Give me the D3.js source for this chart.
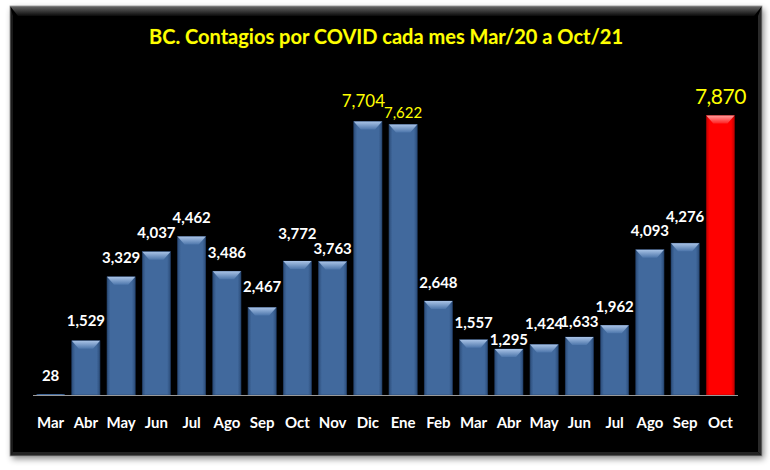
<!DOCTYPE html>
<html><head><meta charset="utf-8">
<script src="https://cdn.jsdelivr.net/npm/d3@7"></script>
<style>html,body{margin:0;padding:0;background:#fff;}svg{display:block;}</style>
</head><body>
<svg id="chart" width="770" height="470"></svg>
<script>
const months = ["Mar","Abr","May","Jun","Jul","Ago","Sep","Oct","Nov","Dic","Ene","Feb","Mar","Abr","May","Jun","Jul","Ago","Sep","Oct"];
const values = [28,1529,3329,4037,4462,3486,2467,3772,3763,7704,7622,2648,1557,1295,1424,1633,1962,4093,4276,7870];
const title = "BC. Contagios por COVID cada mes Mar/20 a Oct/21";
const highlightIdx = [9,10,19];
const redIdx = 19;

const svg = d3.select("#chart");
const defs = svg.append("defs");

const f = defs.append("filter").attr("id","shadow").attr("x","-5%").attr("y","-5%").attr("width","110%").attr("height","115%");
f.append("feDropShadow").attr("dx",2).attr("dy",3).attr("stdDeviation",3).attr("flood-color","#000").attr("flood-opacity",0.45);

const topBev = defs.append("linearGradient").attr("id","topBev").attr("x1",0).attr("y1",0).attr("x2",0).attr("y2",1);
topBev.append("stop").attr("offset",0).attr("stop-color","#6a6a6a");
topBev.append("stop").attr("offset",1).attr("stop-color","#0a0a0a");

function barGrad(id, edge, mid){
  const g = defs.append("linearGradient").attr("id",id).attr("x1",0).attr("y1",0).attr("x2",1).attr("y2",0);
  g.append("stop").attr("offset",0).attr("stop-color",edge);
  g.append("stop").attr("offset",0.12).attr("stop-color",mid);
  g.append("stop").attr("offset",0.88).attr("stop-color",mid);
  g.append("stop").attr("offset",1).attr("stop-color",edge);
}
barGrad("blueBar","#2c4d7a","#41699d");
barGrad("redBar","#c00000","#ff0000");
function capGrad(id, top, bot){
  const g = defs.append("linearGradient").attr("id",id).attr("x1",0).attr("y1",0).attr("x2",0).attr("y2",1);
  g.append("stop").attr("offset",0).attr("stop-color",top);
  g.append("stop").attr("offset",1).attr("stop-color",bot);
}
capGrad("blueCap","#a9c3e6","#4d76ab");
capGrad("redCap","#ff9a9a","#ff2020");

// panel
const px = 10, py = 6, pw = 752, ph = 450;
svg.append("rect").attr("x",px).attr("y",py).attr("width",pw).attr("height",ph).attr("fill","#060606").attr("filter","url(#shadow)");
svg.append("path").attr("d",`M${px},${py}H${px+pw}L${px+pw-8},${py+10}H${px+8}Z`).attr("fill","url(#topBev)");
svg.append("path").attr("d",`M${px+pw},${py}V${py+ph}L${px+pw-4},${py+ph-4}V${py+10}Z`).attr("fill","#2a2a2a");
svg.append("path").attr("d",`M${px},${py}V${py+ph}L${px+3},${py+ph-3}V${py+10}Z`).attr("fill","#1a1a1a");
svg.append("path").attr("d",`M${px},${py+ph}H${px+pw}L${px+pw-4},${py+ph-4}H${px+3}Z`).attr("fill","#222");
svg.append("rect").attr("x",px).attr("y",py).attr("width",pw).attr("height",ph).attr("fill","none").attr("stroke","#999").attr("stroke-width",0.8);

// title
svg.append("text").attr("x",386).attr("y",44).attr("text-anchor","middle")
  .attr("font-family","Lato, sans-serif").attr("font-weight","bold").attr("font-size",20)
  .attr("fill","#ffff00").attr("style","paint-order:stroke").attr("stroke","#3a3a00").attr("stroke-width",0.5)
  .text(title);

const x = d3.scaleBand().domain(d3.range(months.length)).range([33,738]).paddingInner(0.2).paddingOuter(0.1);
const y = d3.scaleLinear().domain([0,8000]).range([395,111]);

const g = svg.append("g");
const bw = x.bandwidth();
values.forEach((v,i)=>{
  const bx = x(i), by = y(v), h = y(0)-y(v);
  const red = i===redIdx;
  g.append("rect").attr("x",bx).attr("y",by).attr("width",bw).attr("height",h)
    .attr("fill",red?"url(#redBar)":"url(#blueBar)").attr("stroke",h>2?(red?"#a00000":"#24406a"):"none").attr("stroke-width",0.6);
  const cap = Math.min(8,h);
  if(cap>2){
    g.append("path").attr("d",`M${bx},${by}H${bx+bw}L${bx+bw-7},${by+cap}H${bx+7}Z`)
      .attr("fill",red?"url(#redCap)":"url(#blueCap)");
  }
});

// axis line
svg.append("line").attr("x1",33).attr("x2",738).attr("y1",395.5).attr("y2",395.5).attr("stroke","#9a9a9a").attr("stroke-width",1);

// x labels
const xa = svg.append("g").attr("transform","translate(0,395)").call(d3.axisBottom(x).tickFormat(i=>months[i]).tickSize(0).tickPadding(22));
xa.select(".domain").remove();
xa.selectAll("text").attr("fill","#fff").attr("font-family","Lato, sans-serif").attr("font-weight","bold").attr("font-size",15);

// value labels (label placement tweaks mimic the original's collision avoidance)
const fmt = d3.format(",");
const dyOffset = {0:-13,1:-15,5:-13,6:-15,7:-22,8:-7,9:-15,10:-6,11:-12.5,12:-12,13:-4,14:-15,15:-10.5,16:-13,17:-14,18:-21.5,19:-12};
const dxOffset = {9:-4.5};
values.forEach((v,i)=>{
  const hl = highlightIdx.includes(i);
  let fs = 15, color="#fff", fw="bold";
  const dy = dyOffset[i] !== undefined ? dyOffset[i] : -14;
  const cx = x(i)+bw/2 + (dxOffset[i]||0);
  if(hl){ color="#ffff00"; fw="normal"; }
  if(i===9){ fs=17; }
  if(i===10){ fs=15; }
  if(i===19){ fs=21; }
  svg.append("text").attr("x",cx).attr("y",y(v)+dy).attr("text-anchor","middle")
    .attr("font-family","Lato, sans-serif").attr("font-weight",fw).attr("font-size",fs)
    .attr("letter-spacing", i===19 ? -0.5 : 0)
    .attr("fill",color).text(fmt(v));
});
</script>
</body></html>
